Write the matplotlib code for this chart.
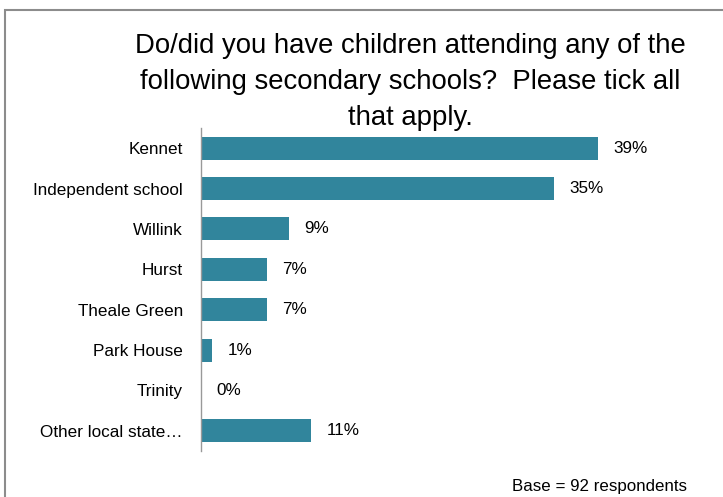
import matplotlib.pyplot as plt
from matplotlib.patches import Rectangle

# survey answers, base 92 respondents
schools = ['Kennet', 'Independent school', 'Willink', 'Hurst', 'Theale Green',
           'Park House', 'Trinity', 'Other local state…']
counts = [36, 32, 8, 6, 6, 1, 0, 10]
n_base = 92
title = ('Do/did you have children attending any of the\n'
         'following secondary schools?  Please tick all\n'
         'that apply.')
base_note = 'Base = 92 respondents'

pcts = [100 * c / n_base for c in counts]

plt.rcParams['font.family'] = ['Liberation Sans', 'DejaVu Sans']
teal = '#31859C'

fig = plt.figure(figsize=(7.23, 4.97), dpi=100)
# light grey frame round the chart area
fig.patches.append(Rectangle((5 / 723, -0.2), 1.2, 1.2 - 10 / 497, transform=fig.transFigure,
                             fill=False, edgecolor='#8c8c8c', linewidth=1.5))

ax = fig.add_axes([201 / 723, 46 / 497, 507 / 723, 323 / 497])
y = range(len(schools))
ax.barh(y, pcts, height=0.57, color=teal)
ax.set_ylim(len(schools) - 0.5, -0.5)
ax.set_xlim(0, 50)
ax.set_yticks(list(y))
ax.set_yticklabels(schools, fontsize=12.3)
ax.tick_params(axis='y', length=0, pad=13)
ax.set_xticks([])
for s in ['top', 'right', 'bottom']:
    ax.spines[s].set_visible(False)
ax.spines['left'].set_color('#999999')
ax.spines['left'].set_linewidth(1)

for i, v in enumerate(pcts):
    ax.annotate(f'{int(v + 0.5)}%', (v, i), xytext=(11, 0), textcoords='offset points',
                va='center', ha='left', fontsize=12.3)

fig.text(410 / 723, 1 - 82 / 497, title, ha='center', va='center',
         fontsize=19.8, linespacing=1.5)
fig.text(600 / 723, 1 - 487 / 497, base_note, ha='center', va='center', fontsize=12.2)

fig.savefig('out.png', dpi=100)
